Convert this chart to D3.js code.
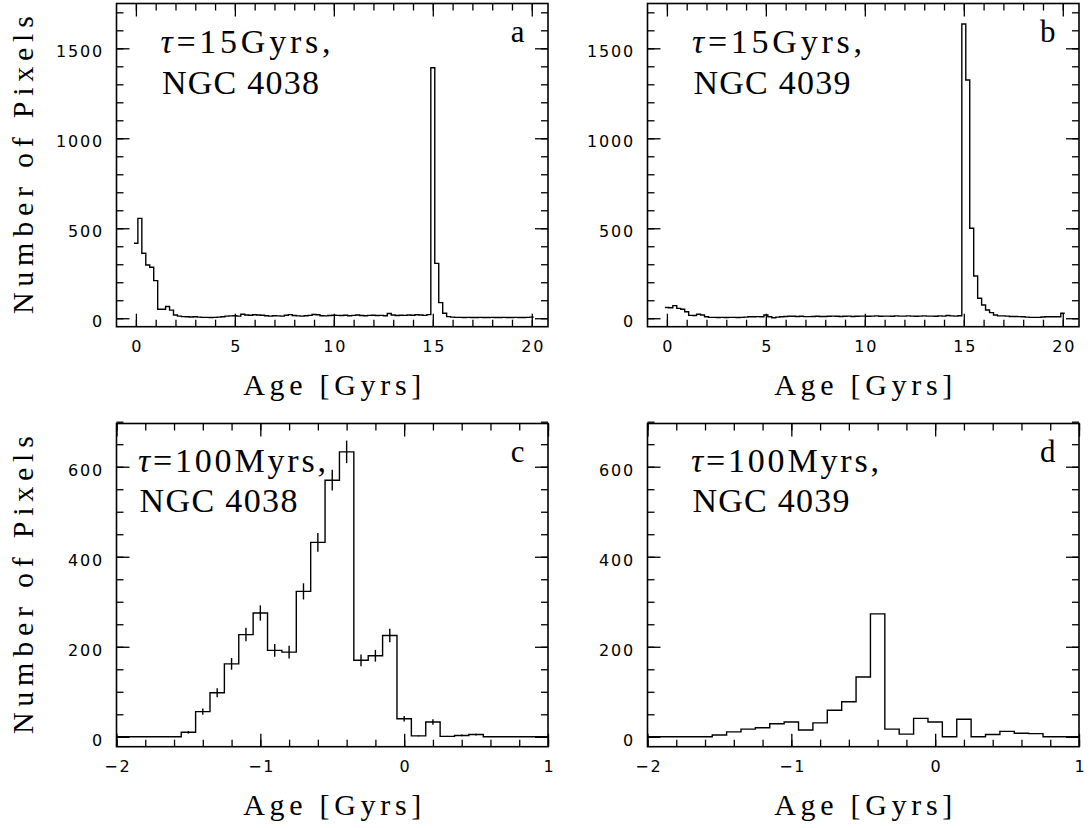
<!DOCTYPE html>
<html><head><meta charset="utf-8">
<script src="https://cdn.jsdelivr.net/npm/d3@7"></script>
<style>
html,body{margin:0;padding:0;background:#fff;}
svg{display:block;}
</style></head>
<body>
<script>
// ---------- DATA ----------
// Panels a,b: bins of 0.2 Gyr, centres from 0.0 to 20.0
const binWidthGyr = 0.2;
const countsA = [417,555,361,296,283,209,50,50,65,45,
  18,12,9,8,7,8,6,5,5,4,
  5,6,8,12,13,14,12,22,18,17,
  19,18,17,14,12,14,13,12,17,20,
  15,13,12,14,16,21,19,14,13,15,
  17,16,15,17,14,16,18,15,14,16,
  17,15,16,14,26,18,15,17,16,18,
  17,19,18,16,20,
  1392,305,87,28,9,
  6,5,5,4,5,4,4,5,4,4,
  5,4,4,5,4,4,5,4,4,5,6];
const countsB = [60,58,70,55,50,36,16,15,22,18,
  8,5,5,4,5,4,5,5,4,5,
  6,8,8,9,8,18,8,3,6,8,
  10,11,11,10,11,9,9,10,11,10,
  10,11,12,11,10,11,12,10,11,12,
  12,11,12,13,11,12,12,11,13,12,
  12,13,12,11,12,13,12,12,11,13,
  12,15,13,12,14,
  1635,1324,500,235,111,74,46,31,18,13,13,12,10,10,9,
  8,6,5,5,5,7,8,8,8,8,28];
// Panels c,d: bins of 0.1 Gyr, centres from -2.0 to 1.0
const binWidthMyr = 0.1;
const countsC = [0,0,0,0,0,
  10,56,98,162,227,275,192,188,323,432,570,633,170,180,225,40,2,33,1,3,5,
  0,0,0,0,0];
const errorsC = [0,0,0,0,0,
  3,7,10,13,15,17,14,14,18,21,23,25,13,13,15,6,1,6,1,2,2,
  0,0,0,0,0];
const countsD = [0,0,0,0,0,
  4,11,17,20,29,33,15,31,59,78,133,273,17,6,41,33,0,39,0,5,12,
  8,7,0,0,0];

const xTicksGyr = [0,5,10,15,20];
const xMinorGyr = d3.range(0,21,1);
const yTicksTop = [0,500,1000,1500];
const yMinorTop = d3.range(0,1701,100);
const xTicksMyr = [-2,-1,0,1];
const xMinorMyr = d3.range(-2,1.001,0.2).map(v=>+v.toFixed(1));
const yTicksBot = [0,200,400,600];
const yMinorBot = d3.range(0,701,50);

const panels = [
  {id:"a", counts:countsA, start:0, bw:binWidthGyr, xdom:[-0.98,20.82], ydom:[-47,1749],
   xt:xTicksGyr, xm:xMinorGyr, yt:yTicksTop, ym:yMinorTop,
   box:[116.5,548,3.5,326.7], line1:"15Gyrs,", line2:"NGC 4038", tx:44, w1:170, w2:157},
  {id:"b", counts:countsB, start:0, bw:binWidthGyr, xdom:[-0.98,20.82], ydom:[-47,1749],
   xt:xTicksGyr, xm:xMinorGyr, yt:yTicksTop, ym:yMinorTop,
   box:[647.5,1079,3.5,326.7], line1:"15Gyrs,", line2:"NGC 4039", tx:44.5, w1:170, w2:157},
  {id:"c", counts:countsC, errors:errorsC, start:-2, bw:binWidthMyr, xdom:[-2,1], ydom:[-22,696],
   xt:xTicksMyr, xm:xMinorMyr, yt:yTicksBot, ym:yMinorBot,
   box:[116.5,548,423.5,746.7], line1:"100Myrs,", line2:"NGC 4038", tx:21.5, w1:188, w2:158},
  {id:"d", counts:countsD, start:-2, bw:binWidthMyr, xdom:[-2,1], ydom:[-22,696],
   xt:xTicksMyr, xm:xMinorMyr, yt:yTicksBot, ym:yMinorBot,
   box:[647.5,1079,423.5,746.7], line1:"100Myrs,", line2:"NGC 4039", tx:43.5, w1:188, w2:157}
];

const W=1090, H=828;
const svg = d3.select("body").append("svg").attr("width",W).attr("height",H);
const serif = "'Liberation Serif', 'Times New Roman', serif";
const sans = "'DejaVu Sans', sans-serif";
const fmt = d => d < 0 ? "\u2212" + Math.abs(d) : String(d);

panels.forEach((p,i) => {
  const [L,R,T,B] = p.box;
  const x = d3.scaleLinear().domain(p.xdom).range([L,R]);
  const y = d3.scaleLinear().domain(p.ydom).range([B,T]);
  const g = svg.append("g");

  const clipId = "clip"+p.id;
  svg.append("clipPath").attr("id",clipId).append("rect")
    .attr("x",L).attr("y",T).attr("width",R-L).attr("height",B-T);

  const addAxis = (axisFn, scale, vals, size, tr, labels) => {
    const ax = axisFn(scale).tickValues(vals).tickSize(-size).tickSizeOuter(0);
    if (!labels) ax.tickFormat("");
    else ax.tickFormat(fmt);
    const ag = g.append("g").attr("transform",tr).call(ax);
    ag.select(".domain").remove();
    ag.selectAll(".tick line").attr("stroke","#000").attr("stroke-width",1.3);
    return ag;
  };
  addAxis(d3.axisBottom, x, p.xm, 7, `translate(0,${B})`, false);
  addAxis(d3.axisTop, x, p.xm, 7, `translate(0,${T})`, false);
  addAxis(d3.axisLeft, y, p.ym, 7, `translate(${L},0)`, false);
  addAxis(d3.axisRight, y, p.ym, 7, `translate(${R},0)`, false);
  addAxis(d3.axisTop, x, p.xt, 13, `translate(0,${T})`, false);
  addAxis(d3.axisRight, y, p.yt, 13, `translate(${R},0)`, false);
  const bx = addAxis(d3.axisBottom, x, p.xt, 13, `translate(0,${B})`, true);
  bx.selectAll(".tick text").attr("y",0).attr("dy",null)
    .attr("transform","translate(0,25)")
    .attr("font-family",sans).attr("font-size",16).attr("letter-spacing",1.8)
    .attr("fill","#000").attr("dx",0.9);
  const ly = addAxis(d3.axisLeft, y, p.yt, 13, `translate(${L},0)`, true);
  ly.selectAll(".tick text").attr("x",-12.5).attr("dy",null)
    .attr("transform","translate(0,8.3)")
    .attr("font-family",sans).attr("font-size",16).attr("letter-spacing",1.8)
    .attr("fill","#000");

  // histogram step line
  const pts = p.counts.map((v,k) => [p.start + k*p.bw - p.bw/2, v]);
  const last = p.counts.length-1;
  pts.push([p.start + last*p.bw + p.bw/2, p.counts[last]]);
  const line = d3.line().x(d=>x(d[0])).y(d=>y(d[1])).curve(d3.curveStepAfter);
  g.append("path").attr("d",line(pts)).attr("fill","none").attr("stroke","#000")
    .attr("stroke-width",1.4).attr("clip-path",`url(#${clipId})`);

  // error bars
  if (p.errors) {
    p.counts.forEach((v,k) => {
      const e = p.errors[k];
      if (e > 0) {
        const cx = x(p.start + k*p.bw);
        g.append("line").attr("x1",cx).attr("x2",cx)
          .attr("y1",y(v-e)).attr("y2",y(v+e))
          .attr("stroke","#000").attr("stroke-width",1.4);
      }
    });
  }

  // frame
  g.append("rect").attr("x",L).attr("y",T).attr("width",R-L).attr("height",B-T)
    .attr("fill","none").attr("stroke","#000").attr("stroke-width",1.6);

  // annotations
  const t1 = g.append("text").attr("x",L+p.tx).attr("y",T+(i<2?49.8:48.2))
    .attr("font-family",serif).attr("font-size",34).attr("fill","#000")
    .attr("textLength",p.w1).attr("lengthAdjust","spacing");
  t1.append("tspan").attr("font-style","italic").text("\u03C4");
  t1.append("tspan").text("=");
  t1.append("tspan").text(p.line1);
  g.append("text").attr("x",L+p.tx+1.5).attr("y",T+(i<2?90.8:88.2))
    .attr("font-family",serif).attr("font-size",34).attr("fill","#000")
    .attr("textLength",p.w2).attr("lengthAdjust","spacing").text(p.line2);
  g.append("text").attr("x",R-23.5).attr("y",T+38.7).attr("text-anchor","end")
    .attr("font-family",serif).attr("font-size",31).attr("fill","#000").text(p.id);

  // axis titles
  g.append("text").attr("x",(L+R)/2).attr("y",B+68).attr("text-anchor","middle")
    .attr("font-family",serif).attr("font-size",30).attr("fill","#000")
    .attr("textLength",178).attr("lengthAdjust","spacing").text("Age [Gyrs]");
  if (i % 2 === 0) {
    g.append("text").attr("transform",`translate(33,${(T+B)/2}) rotate(-90)`)
      .attr("text-anchor","middle")
      .attr("font-family",serif).attr("font-size",30).attr("fill","#000")
      .attr("textLength",298).attr("lengthAdjust","spacing").text("Number of Pixels");
  }
});
</script>
</body></html>
